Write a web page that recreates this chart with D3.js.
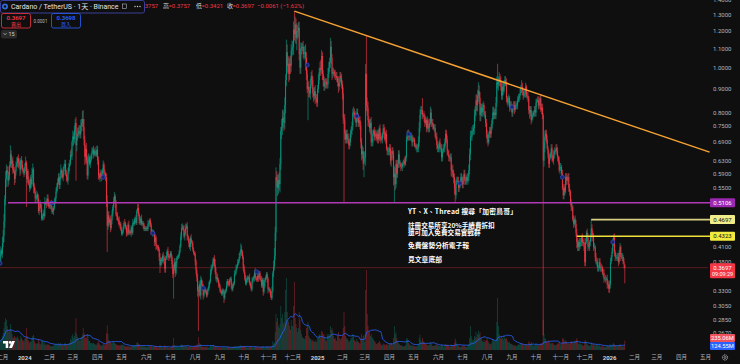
<!DOCTYPE html>
<html>
<head>
<meta charset="utf-8">
<script src="https://cdn.jsdelivr.net/npm/d3@7"></script>
<style>
html, body { margin: 0; padding: 0; background: #0f0f0f; }
svg { display: block; font-family: Roboto, "Noto Sans", "Noto Sans CJK TC", sans-serif; }
</style>
</head>
<body>
<div id="chart"></div>
<script>
// ADA/USDT daily closes, one row per month, from 2023-12-01
const closeMonths = [
  [0.389,0.403,0.396,0.418,0.433,0.465,0.52,0.575,0.60,0.595, 0.57,0.585,0.615,0.65,0.62,0.63,0.602,0.598,0.575,0.597, 0.615,0.622,0.637,0.625,0.618,0.602,0.632,0.618,0.603,0.594, 0.592],
  [0.61,0.624,0.575,0.598,0.57,0.562,0.55,0.575,0.56,0.59, 0.603,0.552,0.54,0.522,0.523,0.532,0.522,0.49,0.50,0.508, 0.497,0.472,0.478,0.484,0.478,0.51,0.51,0.508,0.522,0.512, 0.501],
  [0.505,0.508,0.498,0.488,0.49,0.498,0.512,0.522,0.54,0.552, 0.565,0.58,0.558,0.578,0.6,0.59,0.58,0.598,0.612,0.62, 0.59,0.58,0.57,0.595,0.61,0.62,0.648,0.645,0.69],
  [0.71,0.70,0.735,0.76,0.68,0.71,0.72,0.73,0.728,0.718, 0.75,0.76,0.775,0.745,0.70,0.642,0.668,0.632,0.585,0.638, 0.64,0.62,0.632,0.648,0.66,0.665,0.65,0.66,0.658,0.648, 0.665],
  [0.63,0.585,0.578,0.592,0.58,0.59,0.60,0.618,0.592,0.59, 0.58,0.515,0.455,0.48,0.462,0.47,0.45,0.468,0.482,0.50, 0.515,0.528,0.508,0.482,0.478,0.47,0.468,0.458,0.46,0.448],
  [0.438,0.442,0.452,0.462,0.46,0.452,0.44,0.438,0.458,0.44, 0.442,0.44,0.452,0.44,0.462,0.46,0.47,0.472,0.462,0.49, 0.498,0.482,0.468,0.462,0.472,0.46,0.462,0.458,0.448,0.45, 0.448],
  [0.45,0.448,0.46,0.462,0.468,0.458,0.44,0.44,0.442,0.438, 0.42,0.43,0.412,0.41,0.41,0.405,0.39,0.375,0.385,0.382, 0.392,0.39,0.38,0.368,0.388,0.392,0.402,0.392,0.39,0.392],
  [0.398,0.39,0.376,0.358,0.368,0.38,0.36,0.378,0.388,0.39, 0.392,0.40,0.412,0.432,0.45,0.452,0.448,0.432,0.44,0.452, 0.455,0.432,0.428,0.418,0.41,0.428,0.42,0.418,0.405,0.398, 0.396],
  [0.382,0.365,0.352,0.33,0.328,0.34,0.322,0.348,0.34,0.338, 0.322,0.332,0.33,0.328,0.322,0.33,0.332,0.338,0.345,0.36, 0.368,0.372,0.38,0.386,0.375,0.362,0.35,0.352,0.348,0.342, 0.338],
  [0.33,0.328,0.325,0.33,0.328,0.318,0.328,0.33,0.338,0.346, 0.342,0.34,0.348,0.35,0.34,0.332,0.338,0.342,0.358,0.36, 0.368,0.372,0.378,0.382,0.39,0.398,0.405,0.40,0.39,0.372],
  [0.362,0.35,0.342,0.348,0.352,0.35,0.352,0.342,0.338,0.332, 0.345,0.35,0.352,0.362,0.352,0.35,0.348,0.355,0.352,0.36, 0.35,0.348,0.338,0.348,0.328,0.338,0.348,0.352,0.358,0.35, 0.332],
  [0.332,0.33,0.322,0.318,0.33,0.36,0.372,0.392,0.44,0.58, 0.57,0.55,0.572,0.56,0.62,0.73,0.745,0.78,0.77,0.76, 0.83,0.94,1.08,1.01,1.02,0.97,1.02,1.01,1.09,1.10],
  [1.11,1.21,1.18,1.24,1.16,1.20,1.20,1.22,1.07,1.00, 1.10,1.11,1.11,1.07,1.08,1.08,1.05,0.97,0.90,0.91, 0.89,0.88,0.92,0.96,0.94,0.88,0.87,0.89,0.86,0.86, 0.84],
  [0.90,0.94,0.98,1.00,0.99,1.06,0.97,0.94,0.91,0.93, 0.93,0.92,0.92,0.97,1.00,1.03,1.11,1.05,0.97,0.98, 0.98,0.97,0.96,0.96,0.95,0.93,0.91,0.93,0.96,0.95, 0.92],
  [0.88,0.78,0.77,0.72,0.70,0.72,0.70,0.70,0.68,0.69, 0.72,0.73,0.75,0.80,0.80,0.79,0.78,0.76,0.80,0.78, 0.76,0.77,0.75,0.69,0.65,0.66,0.62,0.64],
  [0.64,0.97,0.83,0.82,0.77,0.76,0.74,0.76,0.69,0.69, 0.72,0.73,0.71,0.72,0.72,0.70,0.72,0.70,0.74,0.71, 0.70,0.70,0.72,0.74,0.73,0.70,0.72,0.67,0.66,0.66, 0.66],
  [0.67,0.63,0.65,0.66,0.65,0.58,0.59,0.56,0.62,0.59, 0.62,0.65,0.62,0.62,0.61,0.61,0.62,0.62,0.63,0.62, 0.64,0.70,0.71,0.72,0.71,0.71,0.71,0.71,0.69,0.70],
  [0.70,0.68,0.68,0.67,0.67,0.67,0.69,0.74,0.79,0.81, 0.81,0.79,0.79,0.78,0.76,0.77,0.74,0.77,0.74,0.74, 0.76,0.80,0.76,0.76,0.75,0.74,0.74,0.71,0.71,0.68, 0.67],
  [0.67,0.69,0.67,0.67,0.64,0.66,0.67,0.67,0.69,0.72, 0.70,0.66,0.65,0.64,0.64,0.64,0.60,0.60,0.59,0.58, 0.55,0.53,0.57,0.57,0.57,0.55,0.56,0.56,0.58,0.57],
  [0.56,0.58,0.59,0.57,0.57,0.58,0.57,0.58,0.60,0.65, 0.71,0.71,0.73,0.73,0.74,0.79,0.81,0.85,0.83,0.87, 0.89,0.86,0.79,0.82,0.80,0.82,0.83,0.79,0.79,0.76, 0.72],
  [0.70,0.69,0.72,0.73,0.72,0.74,0.77,0.80,0.79,0.80, 0.79,0.84,0.93,0.92,0.93,0.95,0.94,0.91,0.87,0.91, 0.89,0.93,0.94,0.93,0.86,0.84,0.85,0.86,0.82,0.83, 0.82],
  [0.80,0.82,0.83,0.81,0.83,0.83,0.83,0.85,0.86,0.87, 0.88,0.90,0.91,0.89,0.87,0.88,0.88,0.91,0.87,0.87, 0.86,0.81,0.80,0.81,0.77,0.79,0.79,0.80,0.81,0.80],
  [0.84,0.85,0.85,0.83,0.84,0.86,0.81,0.82,0.79,0.63, 0.67,0.71,0.72,0.70,0.67,0.65,0.62,0.64,0.65,0.67, 0.64,0.63,0.65,0.66,0.66,0.67,0.66,0.64,0.63,0.60, 0.61],
  [0.61,0.59,0.55,0.53,0.55,0.54,0.58,0.57,0.58,0.58, 0.55,0.54,0.51,0.50,0.50,0.47,0.46,0.47,0.46,0.44, 0.42,0.41,0.42,0.41,0.42,0.42,0.43,0.42,0.42,0.41],
  [0.38,0.42,0.44,0.43,0.41,0.41,0.42,0.43,0.45,0.44, 0.43,0.41,0.41,0.39,0.38,0.38,0.37,0.37,0.38,0.37, 0.37,0.37,0.36,0.36,0.35,0.35,0.35,0.35,0.34,0.34, 0.333],
  [0.34,0.38,0.39,0.40,0.42,0.43,0.40,0.39,0.39,0.39, 0.39,0.38,0.40,0.41,0.39,0.39,0.39,0.38,0.3758,0.3697]
];

// wick reach above / below the body, % of price, one digit per day
const wickUp = [
  "2213342432 3223212321 2312221221 2", "2312122213 3122121222 1212131222 1", "1121212122 2221312212 221222231",
  "3222323233 3243422322 2121212121 2", "2212121212 1232212121 2212121211", "1111211212 1111211121 2212121111 1",
  "1121111211 1211111211 1212121211", "1112222111 1112221212 1211212111 1", "1112221212 1111111212 2121232121 1",
  "1111111121 1111111121 2121213211", "1121111211 2111211111 1121121111 1", "1112213435 3334324444 4354343434",
  "3434343333 3223334322 3232323232 2", "2323432222 2223323322 2122213222 2", "2323222232 2222322222 22222323",
  "3534322232 2122212212 2212221212 2", "2222224322 2222121212 1232222212", "1111223332 2212221212 2322212222 2",
  "2122212222 2212122232 2212221122", "2122212233 3323232333 3332222122 2", "2212221332 2333332222 2122212212 2",
  "2122212221 2212122212 2122212122", "2122212221 3322212212 2122122212 2", "2122122212 2212212122 2212221212",
  "2212221222 1221212122 1212212121 2", "2212232121 2212122120"
];
const wickDown = [
  "1212233341 3221222132 2123132211 2", "1242212121 2312212121 2112211212 1", "1211121121 2122121221 121212112",
  "2322332222 2322343222 2121212121 1", "2212121212 2392212121 2121212121", "1111112111 1121111211 1121111211 1",
  "1111211121 2121212312 1212212121", "1222312121 1111211121 1212121211 1", "2223321211 2111112111 1112111212 1",
  "1111121111 1111211111 1111111212", "1111121111 1112111121 1111211112 2", "1111112224 3433434444 3434343433",
  "3434364333 3322336322 3232323232 2", "2222323322 3222223332 2222223222 2", "3333222222 2222222222 22233233",
  "2434322322 2122212212 2122212122 2", "2232344322 2221212121 1212222222", "1111222222 2212212122 2122212122 2",
  "2212221222 2212223323 3222122212", "2212221222 3222233333 3333222122 2", "2212221222 2222323222 2122212221 2",
  "2212122212 2122212212 2232212122", "2212221222 3222122212 2122212221 2", "2212221222 2212212122 3222122212",
  "2212212221 2212122212 2212212122 2", "2212122212 2212212120"
];

// long wicks: [date, high, low]
const bigWicks = [
  ["2023-12-14", 0.68, null], ["2024-01-03", null, 0.50], ["2024-03-05", null, 0.57],
  ["2024-03-14", 0.81, null], ["2024-04-13", null, 0.40], ["2024-06-18", null, 0.36],
  ["2024-07-05", null, 0.317], ["2024-08-05", null, 0.27], ["2024-09-06", null, 0.31],
  ["2024-11-23", 1.15, null], ["2024-12-03", 1.325, null], ["2024-12-20", null, 0.77],
  ["2025-01-17", 1.16, null], ["2025-02-03", null, 0.51], ["2025-02-28", null, 0.58],
  ["2025-03-03", 1.17, null], ["2025-04-07", null, 0.51], ["2025-05-12", 0.86, null],
  ["2025-06-22", null, 0.51], ["2025-07-21", 0.93, null], ["2025-08-14", 1.02, null],
  ["2025-09-13", 0.94, null], ["2025-10-10", null, 0.264], ["2025-12-09", 0.4697, null],
  ["2026-01-06", 0.436, null], ["2026-01-20", 0.3757, 0.3421]
];

// daily volume, tens of millions ADA
const volMonths = [
  [22,25,28,35,42,55,70,80,75,60, 50,45,52,65,50,40,32,30,35,30, 32,30,34,28,22,25,35,30,26,24, 20],
  [28,30,55,35,25,22,18,22,20,30, 35,38,22,18,15,16,17,28,20,15, 14,22,25,18,14,20,14,12,15,14, 13],
  [12,10,9,9,10,11,12,14,16,14, 12,18,16,14,18,14,12,11,15,18, 16,14,12,14,16,18,28,24,35],
  [40,30,35,45,80,40,32,28,25,22, 30,32,38,55,42,38,30,30,40,38, 24,22,18,17,18,16,18,15,14,12, 14],
  [18,22,16,14,12,11,12,15,14,12, 12,42,62,40,25,22,20,18,16,20, 22,18,16,15,12,12,11,12,11,12],
  [14,12,13,12,10,9,9,9,10,9, 8,8,9,9,11,10,12,12,10,18, 19,16,14,12,11,9,10,9,9,9, 8],
  [8,7,9,9,10,9,11,8,7,8, 10,9,9,8,7,6,9,12,9,8, 7,6,7,12,9,7,8,6,5,5],
  [6,7,8,12,30,12,8,11,9,8, 7,7,8,12,14,12,11,10,9,9, 10,9,8,8,9,9,7,7,8,8, 8],
  [10,12,11,14,32,18,14,15,10,8, 7,8,8,7,9,8,6,6,7,12, 10,9,11,13,9,8,9,8,7,7, 6],
  [6,6,7,6,6,8,6,5,7,8, 7,6,7,6,6,7,7,8,9,9, 9,8,9,8,10,11,12,10,9,10],
  [10,9,9,8,6,6,7,8,7,8, 8,6,6,8,9,8,7,7,6,7, 7,7,8,8,10,7,6,7,9,8, 9],
  [8,7,8,9,10,22,16,18,45,90, 70,80,60,55,65,110,80,90,70,65, 95,150,180,95,75,70,60,50,75,60],
  [60,110,170,80,65,55,45,55,95,75, 50,40,32,30,28,28,35,55,60,70, 35,30,28,26,22,25,22,20,24,22, 20],
  [30,32,38,40,30,48,45,38,40,32, 25,22,40,35,40,38,60,50,55,48, 35,28,30,25,22,38,45,30,28,26, 30],
  [35,55,95,60,35,30,28,25,20,22, 25,30,30,40,35,25,22,20,28,22, 20,18,15,30,40,28,35,38],
  [20,150,200,90,60,45,45,35,40,32, 30,26,22,20,15,15,17,18,22,20, 15,12,12,16,14,14,12,15,13,12, 14],
  [15,16,18,14,12,30,60,40,45,30, 22,18,15,12,12,11,10,9,9,10, 12,28,30,25,18,14,12,11,12,10],
  [11,10,9,8,9,10,14,30,38,25, 18,30,22,20,16,15,14,12,12,12, 14,18,16,12,10,10,11,12,13,14, 12],
  [10,11,10,9,14,12,9,8,11,15, 12,14,12,10,8,9,14,12,11,12, 18,28,22,14,12,11,8,7,8,9],
  [10,9,12,10,8,7,8,10,15,30, 60,35,28,22,25,35,30,45,32,40, 48,38,45,30,28,22,20,25,20,22, 25],
  [28,22,18,16,14,16,20,28,25,22, 20,28,70,130,60,40,30,28,35,30, 25,38,30,28,30,25,20,18,20,15, 16],
  [14,13,12,11,12,10,9,12,14,14, 13,16,18,15,12,12,11,15,14,12, 10,22,18,15,20,16,12,10,12,12],
  [16,14,13,12,12,15,14,16,18,75, 40,30,28,22,20,18,25,20,16,18, 16,18,14,13,12,12,14,16,17,20, 15],
  [14,15,28,30,25,20,25,22,16,18, 16,15,20,22,18,20,18,22,20,25, 30,22,16,14,18,15,14,12,10,12],
  [22,25,20,14,13,11,10,12,18,15, 12,14,12,10,12,14,12,11,13,10, 9,8,10,9,7,8,8,9,10,10, 9],
  [12,14,12,11,15,18,14,12,11,10, 9,11,13,14,12,10,9,8,12,23.5]
];

// drawn levels and trendline
const levelPrices = [0.5106, 0.4697, 0.4323];
const levelStarts = ["2023-12-11", "2025-12-09", "2025-11-21"];
const trendPoints = [["2024-12-03", 1.325], ["2026-05-06", 0.657]];

// small blue markers on the price
const markerDates = ["2023-12-01","2024-02-04","2024-04-08","2024-06-09","2024-08-11","2024-10-17","2024-12-19",
  "2025-02-19","2025-04-25","2025-06-28","2025-09-01","2025-11-03","2026-01-05"];
const markerPrices = [0.378, 0.51, 0.58, 0.439, 0.334, 0.362, 1.013, 0.786, 0.719, 0.563, 0.822, 0.58, 0.42];

const priceTicks = [1.4, 1.3, 1.2, 1.1, 1.0, 0.9, 0.8, 0.75, 0.69, 0.63, 0.59, 0.55, 0.43, 0.41, 0.38, 0.33, 0.305, 0.285, 0.267];
const monthNames = ["", "二月", "三月", "四月", "五月", "六月", "七月", "八月", "九月", "十月", "十一月", "十二月"];

// note blocks; the second block is two lines
const noteBlocks = [["YT、X、Thread 搜尋「加密鳥哥」"], ["註冊交易所享20%手續費折扣", "還可加入免費交易實戰群"], ["免費盤勢分析電子報"], ["見文章底部"]];
const ohlcLegend = [["開", "0.3757"], ["高", "0.3757"], ["低", "0.3421"], ["收", "0.3697"]];
const lastPrice = 0.3697, lastVolume = "235.06M", volumeAvg = "124.55M";

const W = 740, H = 364, plotW = 708, plotH = 350;
const UP = "#089981", DOWN = "#f23645";

const svg = d3.select("#chart").append("svg").attr("width", W).attr("height", H);
svg.append("rect").attr("width", W).attr("height", H).attr("fill", "#0f0f0f");

const x = d3.scaleUtc().domain([Date.UTC(2023, 11, 1), Date.UTC(2026, 4, 4)]).range([0, plotW]);
const y = d3.scaleLog().domain([0.2455, 1.4005]).range([plotH, 0]);
const yVol = d3.scaleLinear().domain([0, 200]).range([plotH, plotH - 80]);
const iso = d => d.toISOString().slice(0, 10);
const parse = s => new Date(s + "T00:00:00Z");

// build candles
const candles = [];
let prev = 0.379;
closeMonths.forEach((row, m) => {
  const up = wickUp[m].replace(/ /g, ""), dn = wickDown[m].replace(/ /g, "");
  row.forEach((c, d) => {
    const o = prev;
    const top = Math.max(o, c), bot = Math.min(o, c);
    candles.push({
      date: new Date(Date.UTC(2023, 11 + m, d + 1)),
      o, c,
      h: top * (1 + (+up[d] || 0) / 100),
      l: bot * (1 - (+dn[d] || 0) / 100),
      v: volMonths[m][d]
    });
    prev = c;
  });
});
const byDate = new Map(candles.map(k => [iso(k.date), k]));
bigWicks.forEach(([s, hi, lo]) => {
  const k = byDate.get(s);
  if (!k) return;
  if (hi != null) k.h = hi;
  if (lo != null) k.l = lo;
});
// 20 day volume average
candles.forEach((k, i) => {
  const win = candles.slice(Math.max(0, i - 19), i + 1);
  k.ma = d3.mean(win, w => w.v);
});

const plot = svg.append("g");
svg.append("clipPath").attr("id", "clip").append("rect").attr("width", plotW + 2).attr("height", plotH);
plot.attr("clip-path", "url(#clip)");

// volume
plot.append("g").selectAll("rect").data(candles).join("rect")
  .attr("x", d => x(d.date) - 0.4)
  .attr("width", 0.8)
  .attr("y", d => yVol(d.v))
  .attr("height", d => plotH - yVol(d.v))
  .attr("fill", d => d.c >= d.o ? UP : DOWN)
  .attr("opacity", 0.4);

plot.append("path").datum(candles)
  .attr("fill", "none").attr("stroke", "#2962ff").attr("stroke-width", 1).attr("opacity", 0.85)
  .attr("d", d3.line().x(d => x(d.date)).y(d => yVol(d.ma)).curve(d3.curveMonotoneX));

// last price line
plot.append("line")
  .attr("x1", 0).attr("x2", plotW).attr("y1", y(lastPrice)).attr("y2", y(lastPrice))
  .attr("stroke", "#f23645").attr("stroke-opacity", 0.35).attr("stroke-width", 1);

// candles
const cg = plot.append("g");
cg.selectAll("line").data(candles).join("line")
  .attr("x1", d => x(d.date)).attr("x2", d => x(d.date))
  .attr("y1", d => y(d.h)).attr("y2", d => y(d.l))
  .attr("stroke", d => d.c >= d.o ? UP : DOWN)
  .attr("stroke-width", 0.65);
cg.selectAll("rect").data(candles).join("rect")
  .attr("x", d => x(d.date) - 0.42).attr("width", 0.84)
  .attr("y", d => y(Math.max(d.o, d.c)))
  .attr("height", d => Math.max(0.6, y(Math.min(d.o, d.c)) - y(Math.max(d.o, d.c))))
  .attr("fill", d => d.c >= d.o ? UP : DOWN);

// markers
plot.append("g").selectAll("circle").data(markerDates).join("circle")
  .attr("cx", d => x(parse(d)))
  .attr("cy", (d, i) => y(markerPrices[i]))
  .attr("r", 2)
  .attr("fill", "#1b2466").attr("stroke", "#3049c9").attr("stroke-width", 0.8);

// levels
const levelColors = ["#b23ab8", "#d9cf84", "#f0e23c"];
levelPrices.forEach((p, i) => {
  svg.append("line")
    .attr("x1", x(parse(levelStarts[i]))).attr("x2", plotW + 2)
    .attr("y1", y(p)).attr("y2", y(p))
    .attr("stroke", levelColors[i]).attr("stroke-width", 1.6);
});

// trendline
svg.append("line")
  .attr("x1", x(parse(trendPoints[0][0]))).attr("y1", y(trendPoints[0][1]))
  .attr("x2", x(parse(trendPoints[1][0]))).attr("y2", y(trendPoints[1][1]))
  .attr("stroke", "#f5a233").attr("stroke-width", 1.5);

// note text
const noteY = [211.7, 225.2, 246, 260];
const notes = svg.append("g")
  .attr("fill", "#ffffff").attr("font-size", 6.8).attr("font-weight", 600)
  .attr("font-family", "'Noto Sans CJK TC', sans-serif");
noteBlocks.forEach((lines, i) => {
  const t = notes.append("text").attr("x", 408).attr("y", noteY[i]);
  if (lines.length === 1) {
    t.attr("dy", "0.35em").text(lines[0]);
    if (i === 0) t.attr("textLength", 109).attr("lengthAdjust", "spacing");
  } else {
    t.attr("font-size", 6.6);
    lines.forEach((s, j) => t.append("tspan").attr("x", 408).attr("dy", j === 0 ? "0.35em" : 7.4).text(s));
  }
});

// price axis labels
const axisFill = "#b2b5be";
svg.append("g").selectAll("text").data(priceTicks).join("text")
  .attr("x", 713).attr("y", d => y(d)).attr("dy", "0.35em")
  .attr("fill", axisFill).attr("font-size", 6)
  .text(d => d.toFixed(4));

// price boxes
const boxFills = ["#9c27b0", "#f1ec8a", "#f2ea3e"];
const boxText = ["#ffffff", "#131313", "#131313"];
levelPrices.forEach((p, i) => {
  const g = svg.append("g").attr("transform", `translate(710,${y(p)})`);
  g.append("rect").attr("x", 0).attr("y", -4.5).attr("width", 25).attr("height", 9).attr("rx", 1).attr("fill", boxFills[i]);
  g.append("text").attr("x", 12.5).attr("dy", "0.35em").attr("text-anchor", "middle")
    .attr("font-size", 6).attr("fill", boxText[i]).text(p.toFixed(4));
});
{
  const g = svg.append("g").attr("transform", `translate(710,${y(lastPrice)})`);
  g.append("rect").attr("x", 0).attr("y", -4.5).attr("width", 25).attr("height", 15).attr("rx", 1).attr("fill", "#f23645");
  g.append("text").attr("x", 12.5).attr("dy", "0.35em").attr("text-anchor", "middle")
    .attr("font-size", 6).attr("fill", "#fff").text(lastPrice.toFixed(4));
  g.append("text").attr("x", 12.5).attr("y", 6.2).attr("dy", "0.35em").attr("text-anchor", "middle")
    .attr("font-size", 5.5).attr("fill", "#fff").text("09:09:29");
}
[[lastVolume, "#f0525e", 338], [volumeAvg, "#2962ff", 346]].forEach(([t, c, cy]) => {
  svg.append("rect").attr("x", 710).attr("y", cy - 4).attr("width", 25).attr("height", 8).attr("rx", 1).attr("fill", c);
  svg.append("text").attr("x", 722.5).attr("y", cy).attr("dy", "0.35em").attr("text-anchor", "middle")
    .attr("font-size", 5.8).attr("fill", "#fff").text(t);
});

// time axis
const months = d3.utcMonth.range(Date.UTC(2023, 11, 1), Date.UTC(2026, 5, 1));
svg.append("g").selectAll("text").data(months).join("text")
  .attr("x", d => x(d)).attr("y", 357.5).attr("dy", "0.35em")
  .attr("text-anchor", "middle")
  .attr("font-size", d => d.getUTCMonth() === 0 ? 6 : 5.5)
  .attr("font-weight", d => d.getUTCMonth() === 0 ? 700 : 400)
  .attr("fill", d => d.getUTCMonth() === 0 ? "#d1d4dc" : axisFill)
  .text(d => d.getUTCMonth() === 0 ? d.getUTCFullYear() : monthNames[d.getUTCMonth()]);

// gear icon
svg.append("circle").attr("cx", 725).attr("cy", 357.5).attr("r", 2.6)
  .attr("fill", "none").attr("stroke", axisFill).attr("stroke-width", 1).attr("stroke-dasharray", "1.2 0.6");
svg.append("circle").attr("cx", 725).attr("cy", 357.5).attr("r", 1).attr("fill", "none").attr("stroke", axisFill).attr("stroke-width", 0.7);

// TradingView mark
const tv = svg.append("g").attr("fill", "#ffffff");
tv.append("path").attr("d", "M3,341 h5.2 v7 h-2.5 v-4.6 h-2.7 z");
tv.append("circle").attr("cx", 10.2).attr("cy", 342.4).attr("r", 1.4);
tv.append("path").attr("d", "M12,341 h3 l-3,7 h-3 z");

// header legend (drawn before title box so the box covers its start)
const lg = svg.append("g").attr("font-size", 6);
const lgX = [131, 163, 196, 227];
ohlcLegend.forEach(([lab, val], i) => {
  lg.append("text").attr("x", lgX[i]).attr("y", 6).attr("dy", "0.35em").attr("fill", "#d1d4dc").text(lab);
  lg.append("text").attr("x", lgX[i] + 5.5).attr("y", 6).attr("dy", "0.35em").attr("fill", DOWN).text("=" + val);
});
lg.append("text").attr("x", 257).attr("y", 6).attr("dy", "0.35em").attr("fill", DOWN).text("−0.0061 (−1.62%)");

svg.append("rect").attr("x", 0.5).attr("y", 0.5).attr("width", 144).attr("height", 12.5).attr("rx", 2)
  .attr("fill", "#0f0f0f").attr("stroke", "#3a3f9a").attr("stroke-width", 1);
svg.append("circle").attr("cx", 5).attr("cy", 6.5).attr("r", 3).attr("fill", "#2f6bd6");
svg.append("circle").attr("cx", 5).attr("cy", 6.5).attr("r", 1.2).attr("fill", "#0f0f0f");
svg.append("text").attr("x", 11).attr("y", 6.8).attr("dy", "0.35em").attr("font-size", 7).attr("fill", "#e0e3eb")
  .text("Cardano / TetherUS · 1天 · Binance");
svg.append("rect").attr("x", 122.5).attr("y", 4).attr("width", 4).attr("height", 4.5).attr("fill", "none")
  .attr("stroke", "#b2b5be").attr("stroke-width", 0.6);
[135, 137.5, 140].forEach(cx => svg.append("circle").attr("cx", cx).attr("cy", 6.5).attr("r", 0.7).attr("fill", "#d1d4dc"));

// sell / buy boxes
[[1.5, DOWN, "0.3697", "賣出"], [51.5, "#2962ff", "0.3698", "買入"]].forEach(([bx, c, p, t]) => {
  svg.append("rect").attr("x", bx).attr("y", 13.5).attr("width", 29).attr("height", 14.5).attr("rx", 2)
    .attr("fill", "#0f0f0f").attr("stroke", c).attr("stroke-width", 0.8);
  svg.append("text").attr("x", bx + 14.5).attr("y", 17.8).attr("dy", "0.35em").attr("text-anchor", "middle")
    .attr("font-size", 6).attr("font-weight", 600).attr("fill", c).text(p);
  svg.append("text").attr("x", bx + 14.5).attr("y", 23.8).attr("dy", "0.35em").attr("text-anchor", "middle")
    .attr("font-size", 5).attr("fill", c).attr("font-family", "'Noto Sans CJK TC', sans-serif").text(t);
});
svg.append("text").attr("x", 40.5).attr("y", 21).attr("dy", "0.35em").attr("text-anchor", "middle")
  .attr("font-size", 4.5).attr("fill", "#b2b5be").text("0.0001");

svg.append("rect").attr("x", 1).attr("y", 30).attr("width", 16).attr("height", 8.5).attr("rx", 2).attr("fill", "#2a2a2a");
svg.append("path").attr("d", "M3.5,33.2 l1.5,1.5 l1.5,-1.5").attr("fill", "none").attr("stroke", "#d1d4dc").attr("stroke-width", 0.7);
svg.append("text").attr("x", 8.5).attr("y", 34.3).attr("dy", "0.35em").attr("font-size", 5.5).attr("fill", "#d1d4dc").text("15");
</script>
</body>
</html>
